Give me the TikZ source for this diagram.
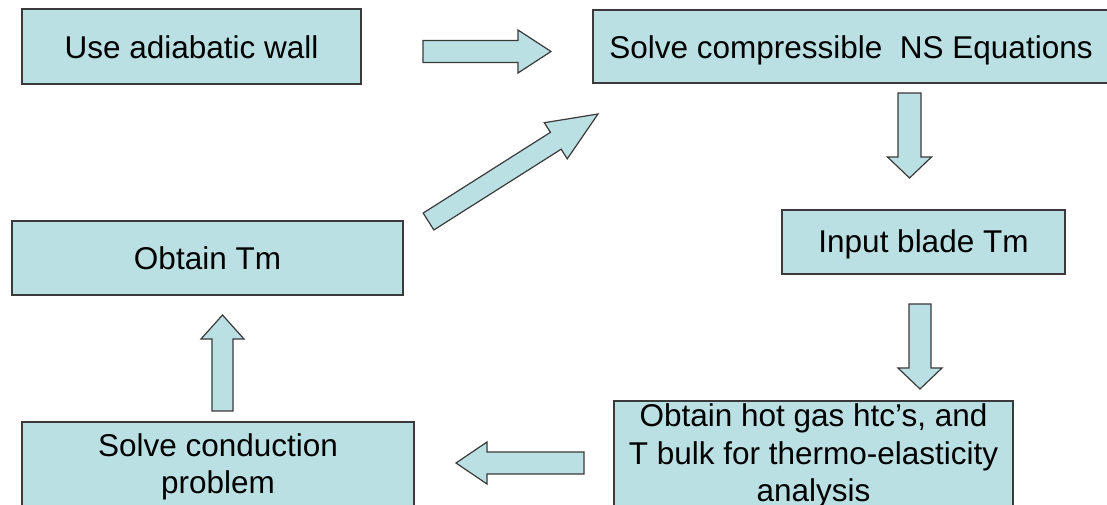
\documentclass[tikz,border=0pt]{standalone}
\usepackage{fontspec}
\setmainfont{Liberation Sans}
\usetikzlibrary{calc}
\definecolor{boxfill}{HTML}{BBE0E3}
\definecolor{boxline}{HTML}{3A3A3A}
\tikzset{
  flowbox/.style={draw=boxline, fill=boxfill, line width=1.2pt, inner sep=0pt},
  boxtext/.style={inner sep=0pt, align=center, font=\fontsize{31.5}{37.5}\selectfont, text=black},
  blockarr/.style={draw=boxline, fill=boxfill, line width=1.2pt, line join=miter}
}
% #1 tail, #2 tip, #3 shaft half width, #4 head half width, #5 head length
\newcommand{\blockarrow}[5]{%
  \path ($(#2)!#5!(#1)$) coordinate (hb);
  \draw[blockarr] ($(#1)!#3!90:(#2)$) -- ($(hb)!#3!90:(#2)$) -- ($(hb)!#4!90:(#2)$)
     -- (#2) -- ($(hb)!#4!-90:(#2)$) -- ($(hb)!#3!-90:(#2)$) -- ($(#1)!#3!-90:(#2)$) -- cycle;
}
\begin{document}
\begin{tikzpicture}[x=1pt, y=-1pt]
\useasboundingbox (0,0) rectangle (1107,505);
\clip (0,0) rectangle (1107,505);
\fill[white] (0,0) rectangle (1107,505);

\node[flowbox, minimum width=339pt, minimum height=75pt] (wall) at (191.5,46.5) {};
\node[flowbox, minimum width=516pt, minimum height=73pt] (ns) at (851,46.5) {};
\node[flowbox, minimum width=283pt, minimum height=64pt] (blade) at (923.5,242) {};
\node[flowbox, minimum width=399pt, minimum height=106pt] (htc) at (813.5,454) {};
\node[flowbox, minimum width=391pt, minimum height=74pt] (tm) at (207.5,258) {};
\node[flowbox, minimum width=392pt, minimum height=84pt] (cond) at (218,464) {};

\node[boxtext] (wall-t) at ($(wall.center)+(0,1)$) {Use adiabatic wall};
\node[boxtext] (ns-t) at ($(ns.center)+(0,3.5)$) {Solve compressible\ \ NS Equations};
\node[boxtext] (blade-t) at ($(blade.center)+(0,2)$) {Input blade Tm};
\node[boxtext] (htc-t) at ($(htc.center)+(0,2)$) {Obtain hot gas htc’s, and\\T bulk for thermo-elasticity\\analysis};
\node[boxtext] (tm-t) at ($(tm.center)+(0,0.5)$) {Obtain Tm};
\node[boxtext] (cond-t) at ($(cond.center)+(0,3)$) {Solve conduction\\problem};

\coordinate (a1s) at (423,51.5);   \coordinate (a1e) at (551,51.5);
\coordinate (a2s) at (909.5,93);   \coordinate (a2e) at (909.5,178);
\coordinate (a3s) at (920,304);    \coordinate (a3e) at (920,389);
\coordinate (a4s) at (584,463);    \coordinate (a4e) at (456,463);
\coordinate (a5s) at (222.5,411);  \coordinate (a5e) at (222.5,315);
\coordinate (a6s) at (428.5,221.5);\coordinate (a6e) at (598,114);

\blockarrow{a1s}{a1e}{11pt}{21.5pt}{33pt}
\blockarrow{a2s}{a2e}{11.5pt}{22pt}{21pt}
\blockarrow{a3s}{a3e}{11pt}{22pt}{21pt}
\blockarrow{a4s}{a4e}{11pt}{21pt}{31pt}
\blockarrow{a5s}{a5e}{10.5pt}{21.5pt}{24pt}
\blockarrow{a6s}{a6e}{10pt}{21.4pt}{50pt}
\end{tikzpicture}
\end{document}
